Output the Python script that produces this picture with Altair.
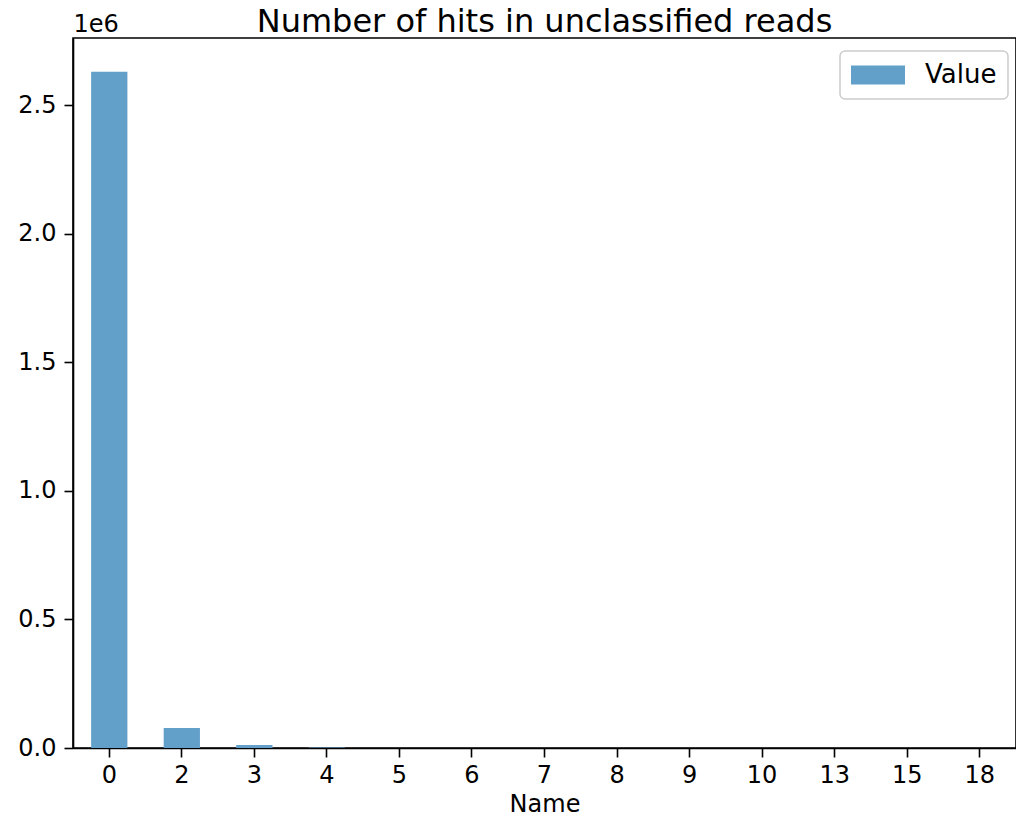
import altair as alt
import pandas as pd

names = ["0", "2", "3", "4", "5", "6", "7", "8", "9", "10", "13", "15", "18"]
values = [2629000, 77800, 11700, 1800, 400, 120, 40, 15, 6, 3, 1, 1, 1]
series = ["Value"] * len(names)

df = pd.DataFrame({"Name": names, "Value": values, "series": series})

FONT = "DejaVu Sans"

bars = alt.Chart(df).mark_bar().encode(
    x=alt.X(
        "Name:N",
        sort=names,
        scale=alt.Scale(paddingInner=0.5, paddingOuter=0.25),
        axis=alt.Axis(
            labelAngle=0,
            labelFontSize=24,
            labelFont=FONT,
            labelColor="black",
            labelPadding=6,
            tickSize=9,
            tickWidth=1.6,
            tickColor="black",
            domainColor="black",
            domainWidth=1.6,
            grid=False,
            title="Name",
            titleFont=FONT,
            titleFontSize=24,
            titleFontWeight="normal",
            titleColor="black",
            titlePadding=5,
        ),
    ),
    y=alt.Y(
        "Value:Q",
        scale=alt.Scale(domain=[0, 2760500], nice=False, zero=True),
        axis=alt.Axis(
            values=[0, 500000, 1000000, 1500000, 2000000, 2500000],
            labelExpr="format(datum.value / 1000000, '.1f')",
            labelFontSize=24,
            labelFont=FONT,
            labelColor="black",
            labelPadding=8,
            tickSize=9,
            tickWidth=1.6,
            tickColor="black",
            domainColor="black",
            domainWidth=1.6,
            grid=False,
            title="1e6",
            titleFont=FONT,
            titleFontSize=24,
            titleFontWeight="normal",
            titleColor="black",
            titleAngle=0,
            titleX=0,
            titleY=-7,
            titleAlign="left",
            titleBaseline="alphabetic",
        ),
    ),
    fill=alt.Fill(
        "series:N",
        scale=alt.Scale(domain=["Value"], range=["#62a0ca"]),
        legend=alt.Legend(
            title=None,
            orient="none",
            legendX=767,
            legendY=13,
            symbolType="M-1,-0.35L1,-0.35L1,0.35L-1,0.35Z",
            symbolSize=2916,
            symbolStrokeWidth=0,
            symbolOpacity=1,
            clipHeight=26,
            labelFont=FONT,
            labelFontSize=26,
            labelColor="black",
            labelOffset=20,
            padding=11,
            strokeColor="#cccccc",
            fillColor="white",
            cornerRadius=5,
        ),
    ),
)

chart = bars.properties(
    width=943,
    height=710,
    title=alt.TitleParams(
        "Number of hits in unclassified reads",
        font=FONT,
        fontSize=32,
        fontWeight="normal",
        color="black",
        anchor="middle",
        baseline="alphabetic",
        offset=0,
        dy=52,
    ),
    autosize=alt.AutoSizeParams(type="none"),
    padding={"left": 65, "top": 30, "right": 0, "bottom": 68},
).configure_view(
    stroke="black",
    strokeWidth=1.6,
).configure_legend(
    strokeWidth=1.5,
)

chart.save("out.html", embed_options={"renderer": "svg", "actions": False})
